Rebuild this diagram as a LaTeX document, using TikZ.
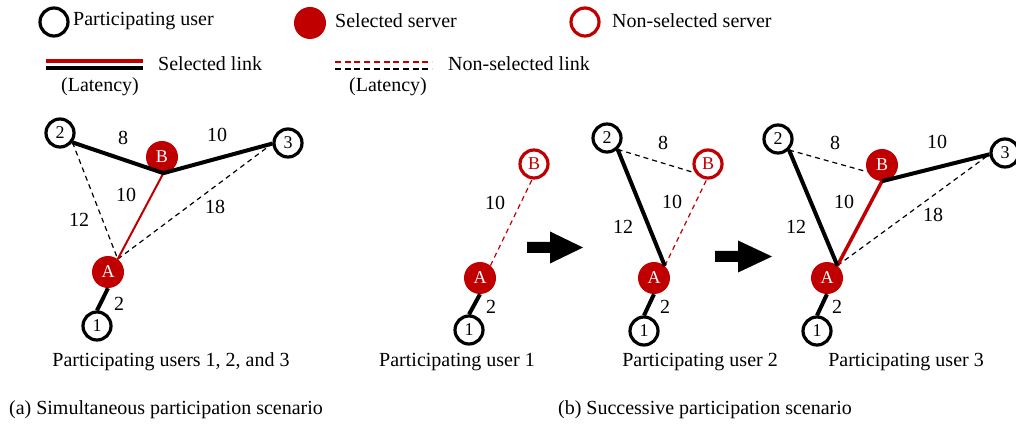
\documentclass[tikz,border=0pt]{standalone}
\usepackage{fontspec}
\setmainfont{Liberation Serif}
\definecolor{selred}{RGB}{192,0,0}
\begin{document}
\begin{tikzpicture}[x=1pt,y=-1pt,
  every node/.style={font=\fontsize{20}{24}\selectfont},
  user/.style={circle, draw=black, line width=3.2pt, fill=white, minimum size=28pt, inner sep=0pt, font=\fontsize{18}{18}\selectfont},
  srv/.style={circle, fill=selred, text=white, minimum size=32pt, inner sep=0pt, font=\fontsize{18}{18}\selectfont},
  nsrv/.style={circle, draw=selred, line width=3.2pt, fill=white, text=selred, minimum size=28pt, inner sep=0pt, font=\fontsize{18}{18}\selectfont},
  lbl/.style={inner sep=0pt},
  txt/.style={inner sep=0pt, anchor=west},
  thickedge/.style={line width=4pt, black, line join=round},
  redthin/.style={line width=2pt, selred},
  redthick/.style={line width=3.5pt, selred},
  dashedge/.style={line width=1.2pt, black, dash pattern=on 5pt off 4pt},
  reddash/.style={line width=1.2pt, selred, dash pattern=on 5pt off 4pt},
  legdash/.style={line width=1.2pt, dash pattern=on 6pt off 3.7pt},
  bigarrow/.style={fill=black}
]
\useasboundingbox (0,0) rectangle (1016,427);

% ---------- Legend ----------
\node[user] (lu) at (54,22) {};
\node[txt] (tlu) at (73,21) {Participating user};
\node[srv] (ls) at (310,23) {};
\node[txt] (tls) at (335,21) {Selected server};
\node[nsrv] (lns) at (585,22) {};
\node[txt] (tlns) at (612,21) {Non-selected server};

\coordinate (sl1) at (46,61); \coordinate (sl2) at (143,61);
\coordinate (sl3) at (46,68); \coordinate (sl4) at (143,68);
\draw[line width=4pt, selred] (sl1) -- (sl2);
\draw[line width=4pt, black] (sl3) -- (sl4);
\node[txt] (tsl) at (158,64) {Selected link};
\node[lbl] (tlat1) at (100,87) {(Latency)};

\coordinate (nl1) at (335,62); \coordinate (nl2) at (432,62);
\coordinate (nl3) at (335,69); \coordinate (nl4) at (432,69);
\draw[legdash, selred] (nl1) -- (nl2);
\draw[legdash, black] (nl3) -- (nl4);
\node[txt] (tnl) at (448,64) {Non-selected link};
\node[lbl] (tlat2) at (388,87) {(Latency)};

% ---------- Panel (a) ----------
\node[user] (a2) at (60,133) {2};
\node[srv]  (aB) at (162,157) {B};
\node[user] (a3) at (288,143) {3};
\node[srv]  (aA) at (108,272) {A};
\node[user] (a1) at (97,326) {1};

\draw[dashedge] (a2.-37) -- (aA.53);
\draw[dashedge] (aA.53) -- (a3.182);
\draw[redthin] (aA.53) -- (aB.-85);
\draw[thickedge] (a2.-37) -- (aB.-85) -- (a3.182);
\draw[thickedge] (a1.north) -- (aA.south);

\node[lbl] at (123,138) {8};
\node[lbl] at (217,135) {10};
\node[lbl] at (126,195) {10};
\node[lbl] at (79,220) {12};
\node[lbl] at (215,207) {18};
\node[lbl] at (119,304) {2};
\node[lbl] (capa) at (171,362) {Participating users 1, 2, and 3};
\node[lbl] (suba) at (166,410) {(a) Simultaneous participation scenario};

% ---------- Panel (b), user 1 ----------
\node[nsrv] (b1B) at (534,164) {B};
\node[srv]  (b1A) at (480,278) {A};
\node[user] (b1u1) at (469,330) {1};
\draw[reddash] (b1A.50) -- (b1B.-97);
\draw[thickedge] (b1u1.north) -- (b1A.south);
\node[lbl] at (495,203) {10};
\node[lbl] at (491,307) {2};
\node[lbl] (capb1) at (457,362) {Participating user 1};

\fill[bigarrow] (527,242) -- (550,242) -- (550,231.5) -- (583,247.5) -- (550,263.5) -- (550,253) -- (527,253) -- cycle;

% ---------- Panel (b), user 2 ----------
\node[user] (b2u2) at (607,138) {2};
\node[nsrv] (b2B) at (708,164) {B};
\node[srv]  (b2A) at (654,278) {A};
\node[user] (b2u1) at (644,331) {1};
\draw[dashedge] (b2u2.-47) -- (b2B.215);
\draw[reddash] (b2A.48) -- (b2B.-95);
\draw[thickedge] (b2u2.-47) -- (b2A.48);
\draw[thickedge] (b2u1.north) -- (b2A.south);
\node[lbl] at (663,143) {8};
\node[lbl] at (672,202) {10};
\node[lbl] at (623,227) {12};
\node[lbl] at (665,307) {2};
\node[lbl] (capb2) at (700,362) {Participating user 2};

\fill[bigarrow] (715,251) -- (738,251) -- (738,240.5) -- (772,256.5) -- (738,272.5) -- (738,262) -- (715,262) -- cycle;

% ---------- Panel (b), user 3 ----------
\node[user] (b3u2) at (778,139) {2};
\node[srv]  (b3B) at (882,165) {B};
\node[user] (b3u3) at (1005,153) {3};
\node[srv]  (b3A) at (827,278) {A};
\node[user] (b3u1) at (817,331) {1};
\draw[dashedge] (b3u2.-45) -- (b3B.205);
\draw[dashedge] (b3A.50) -- (b3u3.185);
\draw[redthick] (b3A.50) -- (b3B.-90);
\draw[thickedge] (b3u2.-45) -- (b3A.50);
\draw[thickedge] (b3B.-90) -- (b3u3.185);
\draw[thickedge] (b3u1.north) -- (b3A.south);
\node[lbl] at (835,143) {8};
\node[lbl] at (937,142) {10};
\node[lbl] at (844,202) {10};
\node[lbl] at (796,227) {12};
\node[lbl] at (933,215) {18};
\node[lbl] at (837,307) {2};
\node[lbl] (capb3) at (906,362) {Participating user 3};
\node[lbl] (subb) at (705,410) {(b) Successive participation scenario};
\end{tikzpicture}
\end{document}
